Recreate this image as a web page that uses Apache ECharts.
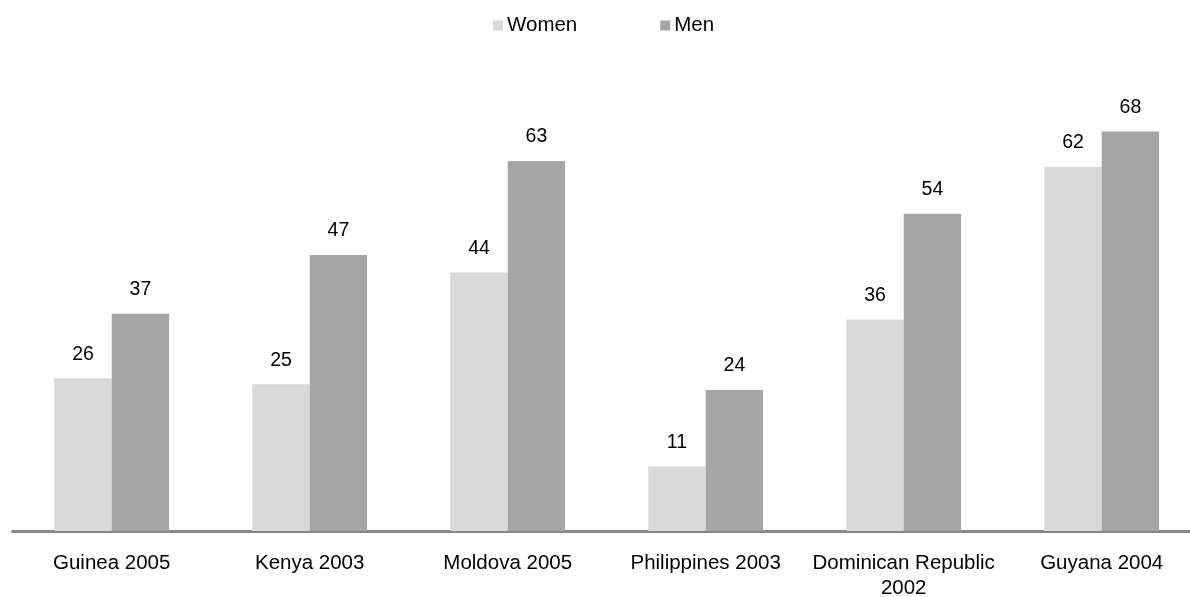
<!DOCTYPE html>
<html>
<head>
<meta charset="utf-8">
<script src="https://cdn.jsdelivr.net/npm/echarts@6/dist/echarts.min.js"></script>
<style>
  html, body { margin: 0; padding: 0; background: #fff; }
  #chart { width: 1190px; height: 597px; }
</style>
</head>
<body>
<div id="chart"></div>
<script>
// Survey results by country and year
const categories = ['Guinea 2005', 'Kenya 2003', 'Moldova 2005', 'Philippines 2003', 'Dominican Republic\n2002', 'Guyana 2004'];
const women = [26, 25, 44, 11, 36, 62];
const men = [37, 47, 63, 24, 54, 68];

const FONT = '"Liberation Sans", Arial, sans-serif';

const chart = echarts.init(document.getElementById('chart'), null, { renderer: 'canvas' });

const labelStyle = {
  show: true,
  position: 'top',
  distance: 14,
  color: '#000',
  fontFamily: FONT,
  fontSize: 19.5
};

chart.setOption({
  animation: false,
  backgroundColor: '#fff',
  legend: {
    top: 15,
    left: 493,
    padding: 0,
    itemWidth: 10,
    itemHeight: 10,
    itemGap: 83,
    icon: 'rect',
    textStyle: { color: '#000', fontFamily: FONT, fontSize: 20.5, padding: [0, 0, 0, -1] },
    data: ['Women', 'Men']
  },
  grid: {
    left: 12.7,
    right: -10.7,
    top: 61,
    bottom: 66,
    containLabel: false,
    outerBoundsMode: 'none'
  },
  xAxis: {
    type: 'category',
    data: categories,
    axisLine: { show: true, lineStyle: { color: '#868686', width: 3 } },
    axisTick: { show: false },
    axisLabel: {
      color: '#000',
      fontFamily: FONT,
      fontSize: 20.5,
      lineHeight: 25,
      margin: 20,
      interval: 0
    }
  },
  yAxis: {
    type: 'value',
    min: 0,
    max: 80,
    show: false,
    splitLine: { show: false }
  },
  series: [
    {
      name: 'Women',
      type: 'bar',
      data: women,
      itemStyle: { color: '#d9d9d9' },
      barGap: '0%',
      barCategoryGap: '42%',
      label: labelStyle
    },
    {
      name: 'Men',
      type: 'bar',
      data: men,
      itemStyle: { color: '#a6a6a6' },
      barGap: '0%',
      barCategoryGap: '42%',
      label: labelStyle
    }
  ]
});
</script>
</body>
</html>
